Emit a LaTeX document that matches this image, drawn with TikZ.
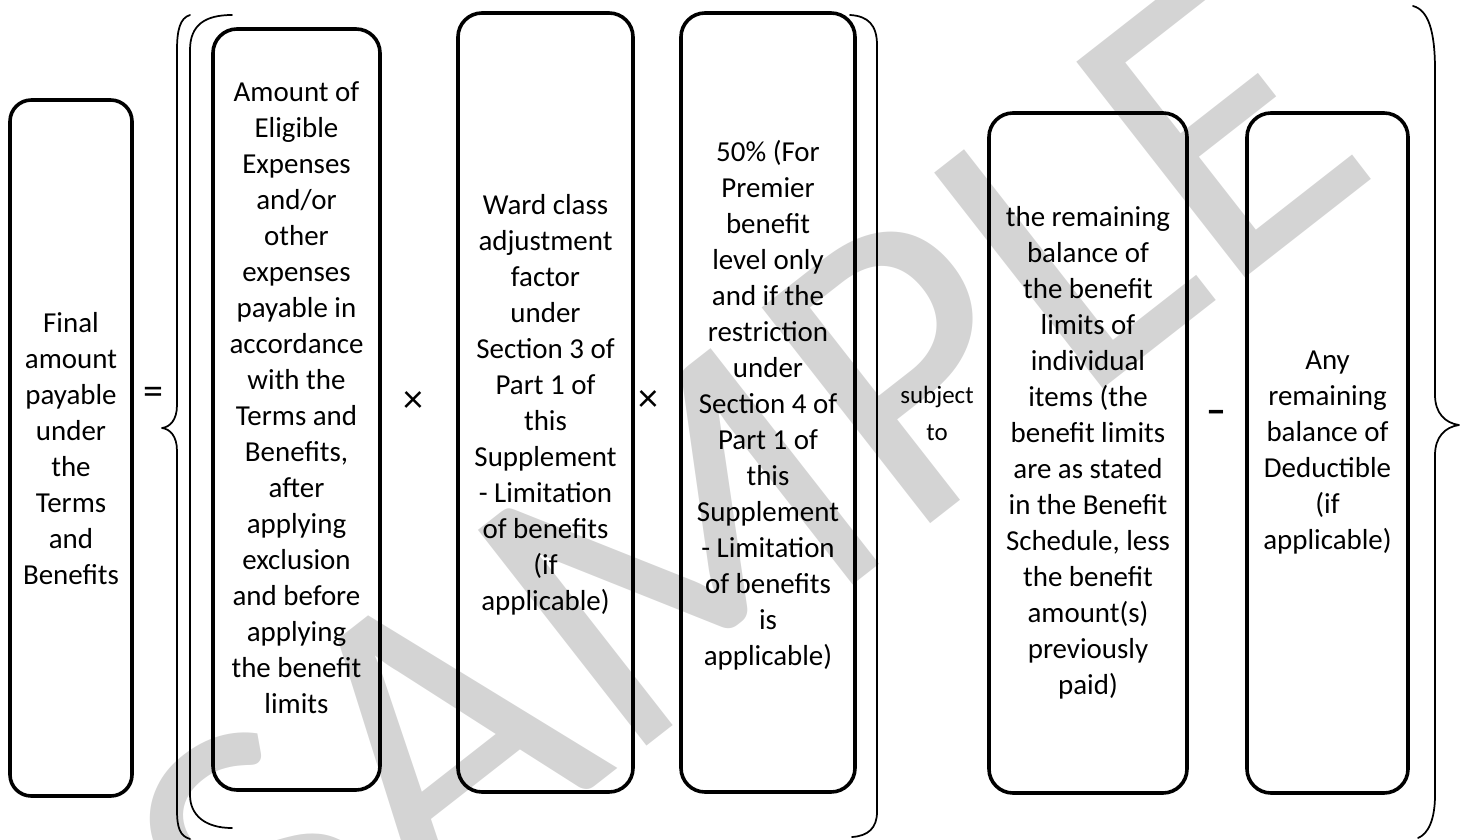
\documentclass[tikz,border=0pt]{standalone}
\usepackage{fontspec}
\setmainfont{Carlito}
\usetikzlibrary{fit}
\definecolor{wm}{RGB}{212,212,212}
\begin{document}
\begin{tikzpicture}[x=0.75pt,y=-0.75pt,
  box/.style={draw=black, line width=2.7pt, rounded corners=18pt, inner sep=0pt},
  smallbox/.style={box, rounded corners=16pt},
  txt/.style={align=center, inner sep=0pt, font=\fontsize{21.7}{27}\selectfont},
  small/.style={align=center, inner sep=0pt, font=\fontsize{18.7}{27.75}\selectfont},
  op/.style={inner sep=0pt, font=\fontsize{30}{30}\selectfont},
  brace/.style={draw=black, line width=1.3pt, line cap=round, line join=round}]
\useasboundingbox (0,0) rectangle (1460,839);

% watermark
\node[rotate=38, text=wm, inner sep=0pt, font=\fontsize{320}{320}\selectfont] (wmark) at (745,495) {SAMPLE};

% boxes
\node[smallbox, fit={(10,100) (132,796)}] (final) {};
\node[box, fit={(213,29) (380,790)}] (amount) {};
\node[box, fit={(458,13) (633,792)}] (ward) {};
\node[box, fit={(681,13) (855,792)}] (half) {};
\node[box, fit={(989,113) (1187,793)}] (remain) {};
\node[box, fit={(1247,113) (1408,793)}] (any) {};

% texts
\node[txt] (finalT) at (71,449) {Final\\amount\\payable\\under\\the\\Terms\\and\\Benefits};
\node[txt] (amountT) at (296.5,398) {Amount of\\Eligible\\Expenses\\and/or\\other\\expenses\\payable in\\accordance\\with the\\Terms and\\Benefits,\\after\\applying\\exclusion\\and before\\applying\\the benefit\\limits};
\node[txt] (wardT) at (545.5,404.5) {Ward class\\adjustment\\factor\\under\\Section 3 of\\Part 1 of\\this\\Supplement\\- Limitation\\of benefits\\(if\\applicable)};
\node[txt] (halfT) at (768,405) {50\% (For\\Premier\\benefit\\level only\\and if the\\restriction\\under\\Section 4 of\\Part 1 of\\this\\Supplement\\- Limitation\\of benefits\\is\\applicable)};
\node[txt] (remainT) at (1088,453) {the remaining\\balance of\\the benefit\\limits of\\individual\\items (the\\benefit limits\\are as stated\\in the Benefit\\Schedule, less\\the benefit\\amount(s)\\previously\\paid)};
\node[txt] (anyT) at (1327.5,453) {Any\\remaining\\balance of\\Deductible\\(if\\applicable)};
\node[small] (subj) at (937,413) {subject\\to};

% operators
\node[op] (eq) at (153,396) {=};
\node[op] (times1) at (413,402) {×};
\node[op] (times2) at (648,401) {×};
\node[op, font=\fontsize{30}{30}\selectfont\bfseries] (minus) at (1216,417) {–};

% outer left brace
\coordinate (lbTop) at (190,15);
\coordinate (lbTip) at (162,428);
\coordinate (lbBot) at (190,839);
\draw[brace] (lbTop) .. controls (180,18) and (177,30) .. (177,50)
  -- (177,405) .. controls (177,420) and (170,427) .. (lbTip)
  .. controls (170,429) and (177,436) .. (177,451)
  -- (177,810) .. controls (177,828) and (180,836) .. (lbBot);
% inner left bracket
\coordinate (ibTop) at (232,15);
\coordinate (ibBot) at (232,828);
\draw[brace] (ibTop) .. controls (205,15) and (190,25) .. (190,50)
  -- (190,795) .. controls (190,815) and (205,828) .. (ibBot);
% middle right bracket
\coordinate (mbTop) at (850,15);
\coordinate (mbBot) at (852,837);
\draw[brace] (mbTop) .. controls (868,16) and (877,25) .. (877,45)
  -- (877,812) .. controls (877,828) and (868,836) .. (mbBot);
% right brace
\coordinate (rbTop) at (1413,6);
\coordinate (rbTip) at (1459,425);
\coordinate (rbBot) at (1418,838);
\draw[brace] (rbTop) .. controls (1428,10) and (1435,30) .. (1435,70)
  -- (1435,395) .. controls (1435,413) and (1445,423) .. (rbTip)
  .. controls (1445,427) and (1435,437) .. (1435,455)
  -- (1435,795) .. controls (1435,820) and (1428,834) .. (rbBot);
\end{tikzpicture}
\end{document}
